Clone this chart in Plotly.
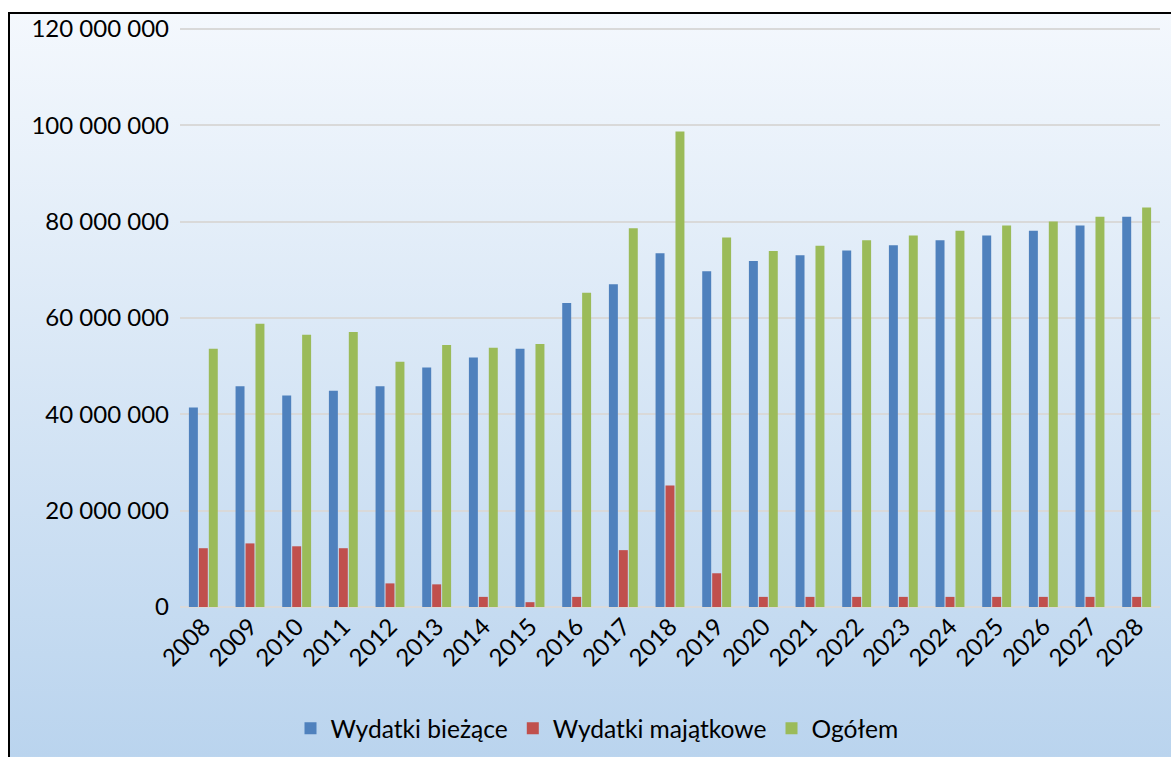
import base64
import plotly.graph_objects as go

years = [str(y) for y in range(2008, 2029)]
wydatki_biezace = [41.4, 45.8, 43.9, 44.9, 45.8, 49.7, 51.8, 53.6, 63.1, 67.0, 73.4,
                   69.7, 71.8, 73.0, 74.0, 75.1, 76.1, 77.1, 78.1, 79.2, 81.0]
wydatki_majatkowe = [12.2, 13.2, 12.6, 12.2, 4.9, 4.7, 2.1, 1.0, 2.1, 11.8, 25.2,
                     7.0, 2.1, 2.1, 2.1, 2.1, 2.1, 2.1, 2.1, 2.1, 2.1]
ogolem = [53.6, 58.8, 56.5, 57.1, 50.9, 54.4, 53.8, 54.6, 65.2, 78.6, 98.7,
          76.7, 73.9, 75.0, 76.1, 77.1, 78.1, 79.2, 80.0, 81.0, 82.9]
series_names = ["Wydatki bieżące", "Wydatki majątkowe", "Ogółem"]
colors = ["#4F81BD", "#C0504D", "#9BBB59"]
tick_vals = [0, 20e6, 40e6, 60e6, 80e6, 100e6, 120e6]
tick_text = ["0", "20 000 000", "40 000 000", "60 000 000", "80 000 000", "100 000 000", "120 000 000"]

W, H = 1171, 762
ml, mr, mt, mb = 180, 11, 24, 151
pw, ph = W - ml - mr, H - mt - mb

def px_x(p):
    return (p - ml) / pw

def px_y(p):
    return (H - mb - p) / ph

fig = go.Figure()
for name, vals, c in zip(series_names, [wydatki_biezace, wydatki_majatkowe, ogolem], colors):
    fig.add_trace(go.Bar(x=years, y=[v * 1e6 for v in vals], name=name,
                         marker=dict(color=c, line=dict(width=0))))

svg = ('<svg xmlns="http://www.w3.org/2000/svg" width="100" height="100" preserveAspectRatio="none">'
       '<defs><linearGradient id="g" x1="0" y1="0" x2="0" y2="1">'
       '<stop offset="0" stop-color="#F4F8FD"/><stop offset="1" stop-color="#BAD4EE"/>'
       '</linearGradient></defs><rect width="100" height="100" fill="url(#g)"/></svg>')
src = "data:image/svg+xml;base64," + base64.b64encode(svg.encode()).decode()

x0, x1 = px_x(9), px_x(W)
y0, y1 = px_y(13), px_y(H)
fig.add_layout_image(dict(source=src, xref="paper", yref="paper", x=x0, y=y0,
                          sizex=x1 - x0, sizey=y0 - y1, sizing="stretch",
                          xanchor="left", yanchor="top", layer="below"))
fig.add_shape(type="path", xref="paper", yref="paper",
              path=f"M {x0},{y1} L {x0},{y0} L {x1},{y0}",
              line=dict(color="#000000", width=2), layer="above")

fig.update_layout(
    width=W, height=H,
    margin=dict(l=ml, r=mr, t=mt, b=mb, pad=0),
    paper_bgcolor="white", plot_bgcolor="rgba(0,0,0,0)",
    barmode="group", bargap=0.36, bargroupgap=0.1,
    font=dict(family="Lato, Carlito, sans-serif", size=24, color="#000000"),
    showlegend=True,
    legend=dict(orientation="h", x=px_x(597), xanchor="center", y=px_y(733), yanchor="middle",
                font=dict(size=24.6), bgcolor="rgba(0,0,0,0)", traceorder="normal",
                itemwidth=30),
    xaxis=dict(type="category", tickangle=-45, showgrid=False, showline=False,
               ticks="", tickfont=dict(size=24)),
    yaxis=dict(range=[0, 121e6], tickvals=tick_vals, ticktext=tick_text,
               showgrid=True, gridcolor="#D9D9D9", gridwidth=1.5,
               zeroline=True, zerolinecolor="#D9D9D9", zerolinewidth=1.5,
               showline=False, ticks="", ticklabelstandoff=10, tickfont=dict(size=24)),
)

post = r"""
document.documentElement.style.margin='0';document.documentElement.style.overflow='hidden';
document.documentElement.style.background='#BAD4EE';
document.body.style.margin='0';document.body.style.overflow='hidden';
document.body.style.background='#BAD4EE';
var d=document.getElementById('{plot_id}');
d.style.position='fixed';d.style.top='0';d.style.left='0';d.style.overflow='hidden';
"""
fig.write_html("out.html", config={"displayModeBar": False}, post_script=post)
